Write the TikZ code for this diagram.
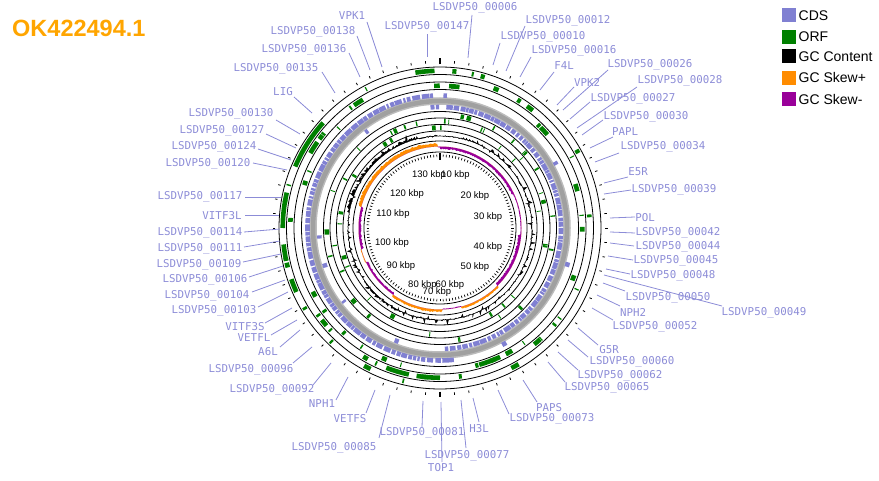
\documentclass[tikz,border=0pt]{standalone}
\usepackage{fontspec}
\setmainfont{Liberation Sans}
\newfontfamily\monof{DejaVu Sans Mono}
\definecolor{cds}{RGB}{128,128,210}
\definecolor{lbl}{RGB}{140,140,215}
\definecolor{orf}{RGB}{0,128,0}
\definecolor{skp}{RGB}{255,140,0}
\definecolor{skm}{RGB}{153,0,153}
\definecolor{ttl}{RGB}{255,165,0}
\definecolor{bb}{RGB}{160,160,160}
\newcommand\featarc[4]{\draw[line width=4.6,#1] (C) ++({90-(#3)}:#2) arc[start angle={90-(#3)}, end angle={90-(#4)}, radius=#2];}
\newcommand\randring[4]{%
  \pgfmathsetseed{#4}%
  \foreach \k in {1,...,#2}{%
    \pgfmathsetmacro\st{360*rnd}%
    \pgfmathsetmacro\en{\st+0.4+#3*rnd*rnd}%
    \featarc{orf}{#1}{\st}{\en}}}
\newcommand\glab[8]{%
  \node[glabel] (L#1) at (#3,-#4) {#2};
  \coordinate (S#1) at (#5,-#6);
  \coordinate (E#1) at (#7,-#8);
  \draw[leader] (S#1) -- (E#1);}
\begin{document}
\begin{tikzpicture}[x=1pt,y=1pt,
  ringline/.style={draw=black,line width=0.8},
  glabel/.style={font=\monof\fontsize{10.8}{12}\selectfont,text=lbl,inner sep=0},
  leader/.style={draw=lbl,line width=0.8},
  kbp/.style={font=\fontsize{9.5}{11}\selectfont,inner sep=0},
  legtext/.style={font=\fontsize{14}{16}\selectfont,anchor=west,inner sep=0},
  declare function={
    reg(\t)=(\t>280)*(\t<340)*1.5+(\t>205)*(\t<235)*0.8;
    gc(\t)=0.7*(2*rnd-1)+((rnd<0.12)?(4.5*rnd):0)-((rnd<0.08)?(3.5*rnd):0)+reg(\t)*rnd*2;
    skA(\t)=(\t<65)?-3:((\t<95)?-1.2:((\t<135)?-3.5:((\t<165)?2.5:((\t<178)?-1:((\t<215)?3:((\t<245)?-2.5:((\t<255)?1:((\t<285)?-3:((\t<358)?4.2:-1)))))))));
    sk(\t)=skA(\t)*(0.55+0.45*rnd);
  }]
\useasboundingbox (0,0) rectangle (879,-481);
\coordinate (C) at (440,-228);

% title
\node[anchor=west,text=ttl,font=\bfseries\fontsize{23.5}{26}\selectfont,inner sep=0] (title) at (12,-28) {OK422494.1};

% legend
\fill[cds] (781.7,-8.3) rectangle (795.7,-22.3);
\node[legtext] (lg1) at (798.5,-15.3) {CDS};
\fill[orf] (781.7,-30) rectangle (795.7,-44);
\node[legtext] (lg2) at (798.5,-37) {ORF};
\fill[black] (781.7,-49.3) rectangle (795.7,-63.3);
\node[legtext] (lg3) at (798.5,-56.3) {GC Content};
\fill[skp] (781.7,-70.7) rectangle (795.7,-84.7);
\node[legtext] (lg4) at (798.5,-77.7) {GC Skew+};
\fill[skm] (781.7,-92.3) rectangle (795.7,-106.3);
\node[legtext] (lg5) at (798.5,-99.3) {GC Skew-};

% backbone
\draw[bb!70,line width=7.5] (C) circle[radius=127];
\draw[bb,line width=4.5] (C) circle[radius=127];

% ring circles
\foreach \r in {161,153.5,146,138.5,116.5,110,103.5,97}{
  \draw[ringline] (C) circle[radius=\r];}
\draw[ringline] (C) circle[radius=87];
\draw[ringline] (C) circle[radius=76];

% outer ticks
\foreach \a in {0,5,...,355}{
  \draw[line width=0.8] (C) ++({90-\a}:165) -- ++({90-\a}:2.5);}
\draw[line width=1.6] (C) ++(90:163.5) -- ++(90:6);
\draw[line width=1.2] (C) ++(-90:163.5) -- ++(-90:5);
% inner ticks
\foreach \a in {0,2.5,...,357.5}{
  \draw[line width=0.7] (C) ++({90-\a}:73.5) -- ++({90-\a}:-2.5);}
\draw[line width=1.4] (C) ++(90:75) -- ++(90:-7);

% CDS forward (left side)
\pgfmathsetseed{11}
\xdef\cur{183}
\foreach \k in {1,...,75}{
  \pgfmathsetmacro\len{0.9+2.6*rnd}
  \pgfmathsetmacro\gp{0.2+0.6*rnd}
  \pgfmathsetmacro\en{\cur+\len}
  \ifdim\en pt<357pt \featarc{cds}{132.5}{\cur}{\en}\fi
  \pgfmathsetmacro\nx{\en+\gp}
  \xdef\cur{\nx}
}
% CDS reverse (right side)
\pgfmathsetseed{17}
\xdef\cur{3}
\foreach \k in {1,...,75}{
  \pgfmathsetmacro\len{0.9+2.6*rnd}
  \pgfmathsetmacro\gp{0.2+0.6*rnd}
  \pgfmathsetmacro\en{\cur+\len}
  \ifdim\en pt<178pt \featarc{cds}{121}{\cur}{\en}\fi
  \pgfmathsetmacro\nx{\en+\gp}
  \xdef\cur{\nx}
}
\foreach \s/\e in {355.5/357.4,358/359.6,200/202,232/233.2,251/253,265/266.5,322/323.5}{
  \featarc{cds}{121}{\s}{\e}}
\foreach \s/\e in {174/179,179.6/182,1.5/3,60/61.5,105/107,150/152}{
  \featarc{cds}{132.5}{\s}{\e}}

% ORF rings
\foreach \s/\e in {351/358,4.5/6,293/312,270/283,258/264,246/251,150/153,15/16.5}{
  \featarc{orf}{157.25}{\s}{\e}}
\randring{157.25}{12}{3}{21}
\foreach \s/\e in {192/201,180/189,138/141,325/329,300/305}{
  \featarc{orf}{149.75}{\s}{\e}}
\randring{149.75}{20}{3.5}{22}
\foreach \s/\e in {155/164,45/49,72/75}{
  \featarc{orf}{142.25}{\s}{\e}}
\randring{142.25}{22}{3.5}{23}
\randring{113.25}{20}{2.5}{24}
\randring{106.75}{20}{2.5}{25}
\randring{100.25}{20}{2.5}{26}

% GC content and GC skew
\begin{scope}[shift={(C)}]
  \pgfmathsetseed{5}
  \filldraw[black,line width=0.35,even odd rule] plot[samples=541,domain=0:360,variable=\t] ({90-\t}:{92+gc(\t)}) -- cycle (0,0) circle[radius=92];
  \pgfmathsetseed{9}
  \fill[skp,even odd rule] plot[samples=541,domain=0:360,variable=\t] ({90-\t}:{81.5+max(sk(\t),0)}) -- cycle (0,0) circle[radius=81.5];
  \fill[skm,even odd rule] plot[samples=541,domain=0:360,variable=\t] ({90-\t}:{81.5+min(sk(\t),0)}) -- cycle (0,0) circle[radius=81.5];
\end{scope}

% kbp labels
\node[kbp] (k130) at (429,-175) {130 kbp};
\node[kbp] (k10) at (455.5,-175) {10 kbp};
\node[kbp] (k20) at (475,-196) {20 kbp};
\node[kbp] (k30) at (488,-217) {30 kbp};
\node[kbp] (k40) at (488,-247) {40 kbp};
\node[kbp] (k50) at (475,-267) {50 kbp};
\node[kbp] (k60) at (450,-285) {60 kbp};
\node[kbp] (k80) at (422.5,-285) {80 kbp};
\node[kbp] (k70) at (437,-292) {70 kbp};
\node[kbp] (k90) at (401,-266) {90 kbp};
\node[kbp] (k100) at (392,-243) {100 kbp};
\node[kbp] (k110) at (393,-214) {110 kbp};
\node[kbp] (k120) at (407,-194) {120 kbp};

% gene labels
\glab{g6}{LSDVP50\_00006}{475}{8}{468}{58}{472}{15}
\glab{g12}{LSDVP50\_00012}{568}{21}{506}{71}{525}{26}
\glab{g10}{LSDVP50\_00010}{543}{37}{493}{65}{500}{43}
\glab{g16}{LSDVP50\_00016}{574}{51}{520}{77}{531}{57}
\glab{gF4L}{F4L}{564}{66}{540}{90}{554}{72}
\glab{g26}{LSDVP50\_00026}{650}{65}{563}{110}{608}{70}
\glab{gVPK2}{VPK2}{587}{82}{557}{105}{574}{87}
\glab{g28}{LSDVP50\_00028}{680}{81}{577}{128}{637}{87}
\glab{g27}{LSDVP50\_00027}{633}{99}{570}{119}{590}{102}
\glab{g30}{LSDVP50\_00030}{646}{117}{582}{135}{603}{120}
\glab{gPAPL}{PAPL}{625}{132}{590}{148}{613}{137}
\glab{g34}{LSDVP50\_00034}{663}{147}{595}{162}{619}{153}
\glab{gE5R}{E5R}{638}{172}{604}{183}{628}{177}
\glab{g39}{LSDVP50\_00039}{674}{190}{604}{194}{631}{190}
\glab{gPOL}{POL}{645}{218}{610}{218}{635}{217}
\glab{g42}{LSDVP50\_00042}{678}{233}{610}{232}{635}{233}
\glab{g44}{LSDVP50\_00044}{678}{247}{610}{243}{634}{246}
\glab{g45}{LSDVP50\_00045}{676}{261}{608}{256}{633}{260}
\glab{g48}{LSDVP50\_00048}{673}{276}{606}{269}{630}{274}
\glab{g49}{LSDVP50\_00049}{764}{313}{604}{275}{722}{306}
\glab{g50}{LSDVP50\_00050}{668}{298}{603}{283}{625}{291}
\glab{gNPH2}{NPH2}{633}{312}{597}{295}{620}{306}
\glab{g52}{LSDVP50\_00052}{655}{327}{592}{308}{613}{320}
\glab{gG5R}{G5R}{609}{350}{578}{328}{598}{345}
\glab{g60}{LSDVP50\_00060}{632}{362}{568}{340}{588}{357}
\glab{g62}{LSDVP50\_00062}{620}{376}{558}{352}{578}{370}
\glab{g65}{LSDVP50\_00065}{607}{388}{548}{362}{565}{382}
\glab{gPAPS}{PAPS}{549}{408}{523}{380}{537}{402}
\glab{g73}{LSDVP50\_00073}{552}{419}{498}{390}{509}{414}
\glab{gH3L}{H3L}{479}{429}{473}{398}{479}{422}
\glab{g77}{LSDVP50\_00077}{467}{456}{461}{400}{466}{448}
\glab{gTOP1}{TOP1}{441}{468}{441}{402}{442}{462}
\glab{g81}{LSDVP50\_00081}{422}{433}{423}{401}{422}{427}
\glab{g85}{LSDVP50\_00085}{334}{448}{390}{395}{379}{438}
\glab{gVETFS}{VETFS}{350}{419}{375}{390}{366}{413}
\glab{gNPH1}{NPH1}{322}{404}{348}{377}{336}{400}
\glab{g92}{LSDVP50\_00092}{272}{390}{331}{363}{313}{385}
\glab{g96}{LSDVP50\_00096}{251}{370}{312}{347}{293}{363}
\glab{gA6L}{A6L}{268}{352}{300}{330}{280}{347}
\glab{gVETFL}{VETFL}{254}{338}{297}{320}{271}{335}
\glab{gVITF3S}{VITF3S}{245}{327}{292}{308}{265}{323}
\glab{g103}{LSDVP50\_00103}{214}{311}{288}{292}{258}{307}
\glab{g104}{LSDVP50\_00104}{207}{296}{285}{280}{252}{292}
\glab{g106}{LSDVP50\_00106}{205}{280}{283}{266}{249}{277}
\glab{g109}{LSDVP50\_00109}{199}{265}{281}{254}{243}{262}
\glab{g111}{LSDVP50\_00111}{200}{249}{280}{241}{244}{247}
\glab{g114}{LSDVP50\_00114}{200}{233}{280}{229}{244}{232}
\glab{gVITF3L}{VITF3L}{222}{216}{279}{215}{245}{215}
\glab{g117}{LSDVP50\_00117}{200}{197}{281}{197}{245}{197}
\glab{g120}{LSDVP50\_00120}{208}{164}{287}{170}{253}{163}
\glab{g124}{LSDVP50\_00124}{214}{147}{291}{160}{258}{149}
\glab{g127}{LSDVP50\_00127}{222}{131}{296}{148}{266}{134}
\glab{g130}{LSDVP50\_00130}{231}{114}{300}{134}{276}{120}
\glab{gLIG}{LIG}{283}{92}{312}{113}{294}{97}
\glab{g135}{LSDVP50\_00135}{276}{69}{335}{93}{322}{72}
\glab{g136}{LSDVP50\_00136}{304}{50}{360}{77}{349}{53}
\glab{g138}{LSDVP50\_00138}{313}{32}{370}{70}{357}{36}
\glab{gVPK1}{VPK1}{352}{16}{382}{67}{367}{22}
\glab{g147}{LSDVP50\_00147}{427}{27}{427}{57}{427}{34}
\end{tikzpicture}
\end{document}
